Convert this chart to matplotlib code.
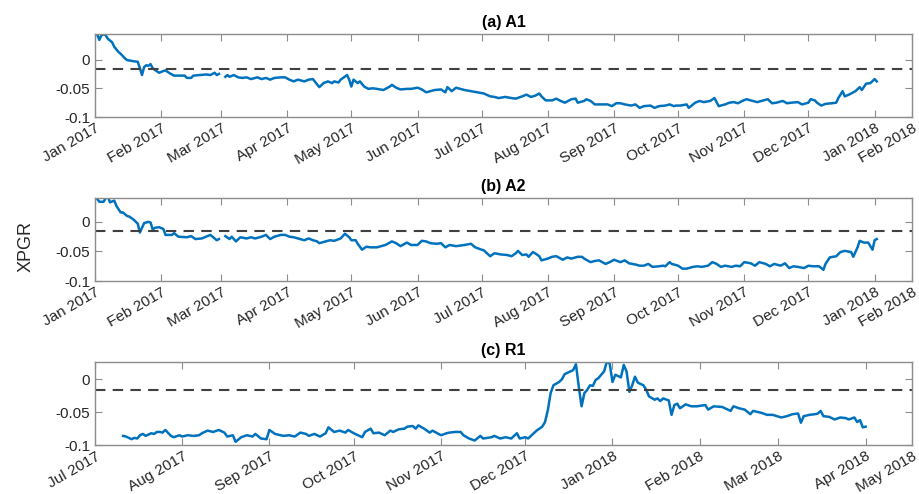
import numpy as np
import matplotlib
matplotlib.use('Agg')
import matplotlib.pyplot as plt

plt.rcParams['font.family'] = ['Liberation Sans', 'DejaVu Sans']
plt.rcParams['axes.unicode_minus'] = False

# days since 1 Jan 2017 and XPGR values, panel (a) A1
a1_days = [0, 1, 2, 3, 4, 5, 6, 8, 9, 11, 12, 14, 15, 18, 20, 21, 22, 23, 24, 25, 26, 27, 28, 30, 32, 33, 35, 37, 39,
           42, 43, 45, 46, 49, 52, 54, 56, 57, 58, 59, 61, 62, 63, 65, 67, 69, 71, 73, 76, 78, 80, 82, 84, 87, 89,
           91, 93, 95, 98, 100, 102, 105, 107, 109, 111, 112, 114, 115, 118, 119, 120, 121, 123, 124, 126, 128, 130,
           132, 135, 138, 139, 141, 143, 146, 148, 151, 153, 155, 157, 159, 162, 164, 165, 167, 169, 173, 176, 179,
           182, 185, 187, 189, 192, 195, 197, 200, 202, 204, 206, 208, 209, 211, 214, 216, 218, 220, 223, 225, 226,
           229, 230, 232, 234, 237, 240, 242, 244, 246, 248, 251, 253, 255, 257, 260, 262, 264, 267, 269, 271, 272,
           274, 277, 278, 281, 283, 285, 288, 290, 292, 295, 297, 299, 301, 303, 305, 308, 310, 312, 315, 317, 319,
           322, 324, 326, 329, 331, 334, 335, 337, 338, 340, 342, 345, 347, 348, 350, 351, 353, 356, 358, 359, 361,
           363, 365, 366]
a1_vals = [0.044, 0.044, 0.034, 0.042, 0.044, 0.042, 0.036, 0.030, 0.022, 0.013, 0.010, 0.002, -0.001, -0.003,
           -0.004, -0.015, -0.027, -0.013, -0.010, -0.011, -0.008, -0.015, -0.018, -0.023, -0.020, -0.019, -0.024,
           -0.028, -0.028, -0.028, -0.032, -0.032, -0.028, -0.027, -0.026, -0.027, -0.023, -0.027, -0.025, np.nan,
           -0.030, -0.027, -0.030, -0.027, -0.031, -0.032, -0.031, -0.034, -0.031, -0.034, -0.032, -0.035, -0.032,
           -0.031, -0.031, -0.035, -0.038, -0.035, -0.038, -0.035, -0.034, -0.048, -0.041, -0.038, -0.041, -0.038,
           -0.040, -0.035, -0.027, -0.035, -0.047, -0.035, -0.041, -0.038, -0.047, -0.051, -0.050, -0.051, -0.053,
           -0.047, -0.044, -0.049, -0.052, -0.051, -0.051, -0.049, -0.052, -0.057, -0.055, -0.053, -0.052, -0.057,
           -0.048, -0.055, -0.049, -0.053, -0.055, -0.057, -0.059, -0.064, -0.065, -0.067, -0.065, -0.067, -0.068,
           -0.064, -0.061, -0.065, -0.063, -0.059, -0.064, -0.071, -0.071, -0.068, -0.072, -0.075, -0.069, -0.068,
           -0.075, -0.072, -0.069, -0.072, -0.078, -0.078, -0.078, -0.081, -0.076, -0.076, -0.078, -0.080, -0.078,
           -0.084, -0.081, -0.080, -0.084, -0.081, -0.080, -0.078, -0.081, -0.080, -0.080, -0.078, -0.084, -0.075,
           -0.072, -0.074, -0.072, -0.067, -0.081, -0.078, -0.075, -0.074, -0.076, -0.072, -0.069, -0.072, -0.074,
           -0.072, -0.069, -0.076, -0.075, -0.072, -0.076, -0.075, -0.074, -0.078, -0.075, -0.069, -0.071, -0.075,
           -0.080, -0.077, -0.076, -0.075, -0.067, -0.055, -0.064, -0.061, -0.055, -0.048, -0.053, -0.042, -0.041,
           -0.034, -0.038]

# panel (b) A2
a2_days = [0, 1, 2, 4, 5, 6, 7, 9, 10, 12, 13, 15, 16, 18, 20, 21, 22, 23, 25, 26, 27, 28, 30, 32, 33, 36, 37, 39,
           43, 45, 47, 50, 52, 54, 56, 57, 58, 59, 61, 63, 64, 66, 68, 71, 73, 75, 78, 80, 82, 84, 87, 89, 91, 93, 95,
           98, 100, 102, 104, 105, 108, 110, 112, 115, 117, 119, 120, 122, 123, 125, 127, 129, 132, 134, 136, 139,
           141, 143, 146, 148, 151, 153, 155, 157, 160, 162, 164, 166, 169, 173, 176, 178, 181, 182, 185, 187, 190,
           193, 195, 197, 198, 200, 202, 203, 205, 206, 208, 209, 212, 214, 216, 219, 221, 223, 226, 228, 229, 232,
           234, 236, 239, 241, 243, 246, 248, 250, 253, 255, 257, 259, 261, 264, 266, 267, 269, 270, 273, 275, 277,
           280, 282, 284, 287, 289, 291, 293, 295, 298, 300, 302, 304, 307, 309, 311, 314, 316, 318, 321, 323, 325,
           327, 329, 332, 334, 336, 339, 341, 342, 344, 347, 349, 351, 354, 355, 357, 358, 360, 362, 364, 365, 366]
a2_vals = [0.041, 0.039, 0.034, 0.034, 0.040, 0.043, 0.033, 0.036, 0.027, 0.016, 0.016, 0.010, 0.009, 0.004,
           -0.003, -0.018, -0.010, -0.002, 0.000, -0.001, -0.013, -0.010, -0.009, -0.012, -0.022, -0.022, -0.019,
           -0.025, -0.026, -0.024, -0.029, -0.028, -0.025, -0.022, -0.028, -0.031, -0.029, np.nan, -0.024, -0.029,
           -0.025, -0.033, -0.026, -0.028, -0.026, -0.028, -0.025, -0.022, -0.029, -0.025, -0.022, -0.022, -0.025,
           -0.026, -0.028, -0.031, -0.028, -0.031, -0.033, -0.036, -0.033, -0.031, -0.032, -0.028, -0.020, -0.026,
           -0.031, -0.031, -0.037, -0.047, -0.042, -0.043, -0.043, -0.041, -0.039, -0.033, -0.036, -0.041, -0.035,
           -0.039, -0.039, -0.032, -0.033, -0.036, -0.037, -0.036, -0.043, -0.039, -0.041, -0.039, -0.037, -0.043,
           -0.047, -0.048, -0.058, -0.053, -0.055, -0.056, -0.058, -0.053, -0.049, -0.056, -0.055, -0.059, -0.051,
           -0.053, -0.058, -0.065, -0.062, -0.059, -0.058, -0.064, -0.060, -0.062, -0.059, -0.059, -0.062, -0.068,
           -0.066, -0.065, -0.071, -0.068, -0.064, -0.068, -0.065, -0.070, -0.072, -0.074, -0.074, -0.071, -0.076,
           -0.075, -0.074, -0.075, -0.068, -0.071, -0.074, -0.079, -0.079, -0.076, -0.075, -0.076, -0.074, -0.068,
           -0.071, -0.076, -0.074, -0.076, -0.074, -0.075, -0.068, -0.070, -0.074, -0.068, -0.071, -0.075, -0.071,
           -0.074, -0.070, -0.078, -0.075, -0.076, -0.078, -0.074, -0.075, -0.075, -0.081, -0.071, -0.060, -0.058,
           -0.051, -0.049, -0.051, -0.059, -0.043, -0.032, -0.035, -0.035, -0.047, -0.031, -0.029]

# panel (c) R1, days since 1 Jul 2017
r1_days = [10, 11, 13, 14, 15, 16, 17, 18, 20, 21, 22, 23, 24, 25, 27, 28, 30, 31, 33, 35, 37, 38, 40, 42, 44, 46,
           47, 49, 50, 52, 54, 56, 57, 59, 61, 62, 64, 66, 67, 69, 71, 73, 75, 76, 78, 80, 82, 83, 85, 87, 89, 90, 92,
           94, 95, 96, 98, 99, 101, 103, 105, 106, 108, 110, 111, 113, 114, 115, 117, 119, 120, 123, 125, 126, 128,
           130, 131, 133, 135, 137, 138, 141, 142, 144, 146, 148, 150, 151, 153, 154, 156, 157, 159, 160, 161, 162,
           163, 165, 166, 167, 169, 170, 171, 172, 173, 174, 175, 176, 177, 178, 179, 181, 182, 183, 184, 185, 186,
           187, 188, 189, 190, 191, 192, 193, 195, 196, 197, 199, 200, 201, 202, 204, 205, 206, 207, 208, 210, 212,
           214, 217, 218, 220, 223, 224, 226, 227, 229, 231, 233, 234, 237, 239, 241, 244, 246, 248, 250, 251, 252,
           254, 256, 257, 258, 259, 261, 263, 265, 267, 268, 270, 271, 272, 273, 274]
r1_vals = [-0.086, -0.087, -0.091, -0.089, -0.090, -0.085, -0.083, -0.086, -0.082, -0.083, -0.080, -0.080, -0.081,
           -0.077, -0.086, -0.088, -0.085, -0.087, -0.085, -0.086, -0.085, -0.082, -0.078, -0.080, -0.077, -0.081,
           -0.087, -0.085, -0.095, -0.088, -0.085, -0.087, -0.083, -0.090, -0.091, -0.077, -0.083, -0.085, -0.086,
           -0.085, -0.087, -0.081, -0.083, -0.086, -0.083, -0.087, -0.082, -0.073, -0.080, -0.078, -0.081, -0.077,
           -0.082, -0.086, -0.088, -0.080, -0.075, -0.082, -0.081, -0.085, -0.078, -0.080, -0.076, -0.075, -0.072,
           -0.071, -0.075, -0.070, -0.075, -0.081, -0.078, -0.085, -0.082, -0.081, -0.080, -0.080, -0.085, -0.090,
           -0.093, -0.086, -0.090, -0.088, -0.086, -0.090, -0.088, -0.090, -0.082, -0.090, -0.088, -0.090, -0.082,
           -0.078, -0.072, -0.065, -0.047, -0.021, -0.009, -0.004, 0.000, 0.008, 0.012, 0.014, 0.023, -0.011, -0.041,
           -0.021, -0.016, -0.009, -0.010, -0.001, 0.002, 0.012, 0.027, 0.024, -0.004, 0.007, 0.005, 0.003, 0.022,
           0.012, -0.019, -0.009, 0.004, -0.005, -0.009, -0.016, -0.026, -0.031, -0.029, -0.033, -0.029, -0.032,
           -0.054, -0.039, -0.037, -0.044, -0.038, -0.041, -0.041, -0.039, -0.046, -0.041, -0.042, -0.044, -0.048,
           -0.041, -0.044, -0.046, -0.053, -0.048, -0.051, -0.054, -0.054, -0.058, -0.056, -0.053, -0.052, -0.066,
           -0.056, -0.054, -0.053, -0.052, -0.048, -0.056, -0.057, -0.061, -0.058, -0.059, -0.061, -0.058, -0.065,
           -0.062, -0.073, -0.072]

threshold = -0.016
titles = ['(a) A1', '(b) A2', '(c) R1']

blue = '#0072BD'
edge = '#8c8c8c'
txt = '#262626'


def month_ticks(first, n):
    d = np.datetime64(first, 'M') + np.arange(n)
    return d.astype('datetime64[D]')


panels = [
    (a1_days, a1_vals, '2017-01-01', 382.5, 0.045, '2017-01', 14),
    (a2_days, a2_vals, '2017-01-01', 382.5, 0.041, '2017-01', 14),
    (r1_days, r1_vals, '2017-07-01', 290.5, 0.027, '2017-07', 11),
]
boxes = [0.763, 0.431, 0.099]

fig = plt.figure(figsize=(9.19, 4.94), dpi=100)
for i, (days, vals, start, span, ytop, first, n) in enumerate(panels):
    ax = fig.add_axes([0.1034, boxes[i], 0.889, 0.169])
    t0 = np.datetime64(start)
    x = t0 + np.array(days).astype('timedelta64[D]')
    ax.plot(x, vals, color=blue, lw=1.8)
    ax.axhline(threshold, color='#404040', lw=1.5, ls=(0, (5, 3.5)))
    xmax = t0 + np.timedelta64(int(span * 24), 'h')
    ax.set_xlim(t0, xmax)
    ax.set_ylim(-0.1, ytop)
    ticks = list(month_ticks(first, n - 1)) + [xmax]
    labels = [str(np.datetime_as_string(m, unit='M')) for m in month_ticks(first, n)]
    labels = [np.datetime64(l).astype(object).strftime('%b %Y') for l in labels]
    ax.set_xticks(ticks)
    ax.set_xticklabels(labels, rotation=30, ha='right', rotation_mode='anchor')
    ax.set_yticks([-0.1, -0.05, 0])
    ax.set_yticklabels(['-0.1', '-0.05', '0'])
    ax.tick_params(direction='in', length=5, width=0.8, color=edge, labelcolor=txt,
                   labelsize=11, top=True, right=True)
    ax.tick_params(axis='x', pad=3)
    for s in ax.spines.values():
        s.set_color(edge)
        s.set_linewidth(1)
    ax.set_title(titles[i], fontsize=11.5, fontweight='bold', color='black', pad=5)

fig.text(0.028, 0.5, 'XPGR', rotation=90, va='center', ha='center', fontsize=13, color=txt)
fig.savefig('out.png', dpi=100)
